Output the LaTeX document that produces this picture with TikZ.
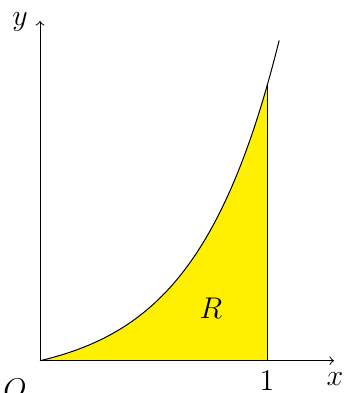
\documentclass[tikz,border=0pt]{standalone}
\begin{document}
\begin{tikzpicture}[x=0.4pt,y=-0.4pt,
  lbl/.style={font=\fontsize{12.4}{15}\selectfont, inner sep=0pt},
  axis/.style={->, line width=0.4pt}]
\definecolor{regionyellow}{RGB}{255,240,0}
\useasboundingbox (0,0) rectangle (343,393);
% key points
\coordinate (O) at (40,360.7);
\coordinate (X) at (334,360.7);
\coordinate (Y) at (40,21);
\coordinate (A) at (267.3,360.7);
\coordinate (B) at (267.3,85);
% region
\fill[regionyellow] plot[domain=0:1,samples=120] ({40+227.3*\x},{360.7-275.7*(exp(2.7*\x)-1)/(exp(2.7)-1)}) -- (A) -- cycle;
\draw (A) -- (B);
% curve
\draw plot[domain=0:1.053,samples=140] ({40+227.3*\x},{360.7-275.7*(exp(2.7*\x)-1)/(exp(2.7)-1)});
% axes
\draw[axis] (O) -- (X);
\draw[axis] (O) -- (Y);
% labels
\node[lbl] (ly) at (20,22) {$y$};
\node[lbl] (lx) at (335,379) {$x$};
\node[lbl] (lO) at (15,389) {$O$};
\node[lbl] (l1) at (267,381) {$1$};
\node[lbl] (lR) at (211,308) {$R$};
\end{tikzpicture}
\end{document}
